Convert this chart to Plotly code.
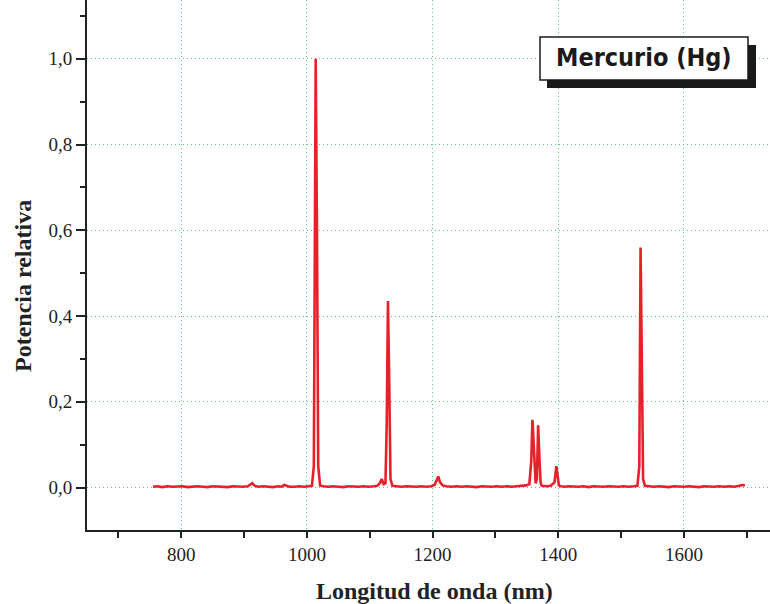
import plotly.graph_objects as go

wavelength = [755, 762, 770, 778, 786, 794, 802, 810, 818, 826, 834, 842, 850, 858, 866, 874, 882, 890, 898, 906, 910, 913, 916, 922,
              930, 938, 946, 954, 960, 964, 967, 972, 980, 988, 996, 1003, 1008, 1011, 1013, 1014, 1016, 1018, 1021, 1026, 1034,
              1042, 1050, 1058, 1066, 1074, 1082, 1090, 1098, 1106, 1112, 1116, 1119, 1122, 1125, 1127, 1129, 1131, 1133, 1136,
              1142, 1150, 1158, 1166, 1174, 1182, 1190, 1198, 1203, 1206, 1209, 1212, 1216, 1222, 1230, 1238, 1246, 1254, 1262,
              1270, 1278, 1286, 1294, 1302, 1310, 1318, 1326, 1334, 1342, 1349, 1354, 1357, 1359, 1361, 1364, 1366, 1368, 1370,
              1372, 1374, 1377, 1382, 1388, 1394, 1397, 1399, 1401, 1404, 1410, 1416, 1424, 1432, 1440, 1448, 1456, 1464, 1472,
              1480, 1488, 1496, 1504, 1512, 1520, 1526, 1529, 1531, 1533, 1535, 1538, 1544, 1552, 1560, 1568, 1576, 1584, 1592,
              1600, 1608, 1616, 1624, 1632, 1640, 1648, 1656, 1664, 1672, 1680, 1688, 1693, 1697]
power = [0.002, 0.003, 0.001, 0.003, 0.002, 0.002, 0.003, 0.001, 0.002, 0.003, 0.002, 0.001, 0.003, 0.002, 0.002, 0.001, 0.003, 0.002, 0.002, 0.003, 0.006, 0.010, 0.005, 0.002,
         0.003, 0.002, 0.001, 0.003, 0.002, 0.006, 0.004, 0.002, 0.002, 0.003, 0.002, 0.003, 0.004, 0.05, 0.55, 1.0, 0.6, 0.05, 0.005, 0.003, 0.002,
         0.003, 0.002, 0.001, 0.003, 0.002, 0.002, 0.003, 0.002, 0.003, 0.004, 0.010, 0.020, 0.008, 0.010, 0.15, 0.435, 0.25, 0.02, 0.004,
         0.003, 0.002, 0.003, 0.002, 0.002, 0.003, 0.002, 0.003, 0.006, 0.015, 0.026, 0.012, 0.005, 0.003, 0.002, 0.003, 0.002, 0.003, 0.002,
         0.001, 0.003, 0.002, 0.002, 0.003, 0.002, 0.003, 0.002, 0.003, 0.004, 0.005, 0.008, 0.06, 0.158, 0.08, 0.01, 0.02, 0.145, 0.07,
         0.01, 0.004, 0.003, 0.003, 0.004, 0.012, 0.050, 0.022, 0.005, 0.003, 0.002, 0.003, 0.002, 0.002, 0.003, 0.001, 0.003, 0.002, 0.002,
         0.003, 0.002, 0.002, 0.003, 0.002, 0.003, 0.004, 0.05, 0.56, 0.30, 0.02, 0.004, 0.003, 0.002, 0.003, 0.002, 0.001, 0.003, 0.002,
         0.002, 0.003, 0.002, 0.001, 0.003, 0.002, 0.002, 0.003, 0.002, 0.003, 0.002, 0.004, 0.006, 0.005]

x_ticks = [800, 1000, 1200, 1400, 1600]
y_ticks = [0.0, 0.2, 0.4, 0.6, 0.8, 1.0]
legend_label = "Mercurio (Hg)"
x_title = "Longitud de onda (nm)"
y_title = "Potencia relativa"

fig = go.Figure(go.Scatter(x=wavelength, y=power, mode="lines",
                           line=dict(color="#e8202a", width=2.6), showlegend=False))

L, B, W, H = 87, 74, 770, 604
pw, ph = W - L, H - B


def px(x):
    return (x - L) / pw


def py(y):
    return (H - B - y) / ph


serif = "Liberation Serif, Times New Roman, serif"
grid = "#55cc77"
fig.update_layout(
    width=W, height=H, margin=dict(l=L, r=0, t=0, b=B),
    paper_bgcolor="white", plot_bgcolor="white",
    separators=", ",
    font=dict(family=serif, color="#222", size=19),
    xaxis=dict(range=[650, 1737], tickvals=x_ticks, ticks="outside", ticklen=6, tickwidth=2,
               tickcolor="#222", showline=True, linecolor="#222", linewidth=2, automargin=False,
               showgrid=True, gridcolor=grid, griddash="1px,3px", gridwidth=1, zeroline=False,
               minor=dict(dtick=100, tick0=0, ticks="outside", ticklen=6, tickwidth=2, tickcolor="#222", showgrid=False),
               tickfont=dict(size=19, family=serif)),
    yaxis=dict(range=[-0.099, 1.137], tickvals=y_ticks, tickformat=".1f", ticks="outside", ticklen=9, tickwidth=2,
               tickcolor="#222", showline=True, linecolor="#222", linewidth=2, automargin=False,
               showgrid=True, gridcolor=grid, griddash="1px,3px", gridwidth=1, zeroline=False,
               minor=dict(dtick=0.1, tick0=0, ticks="outside", ticklen=5, tickwidth=2, tickcolor="#222", showgrid=False),
               tickfont=dict(size=19, family=serif)),
)

fig.add_annotation(xref="paper", yref="paper", x=px(434), y=py(591), text="<b>" + x_title + "</b>",
                   showarrow=False, xanchor="center", yanchor="middle",
                   font=dict(family=serif, size=24, color="#222"))
fig.add_annotation(xref="paper", yref="paper", x=px(23), y=py(286), text="<b>" + y_title + "</b>",
                   showarrow=False, xanchor="center", yanchor="middle", textangle=-90,
                   font=dict(family=serif, size=24, color="#222"))

fig.add_shape(type="rect", xref="paper", yref="paper", x0=px(547), x1=px(756), y0=py(88), y1=py(45),
              fillcolor="#1a1a1a", line=dict(width=0))
fig.add_shape(type="rect", xref="paper", yref="paper", x0=px(540), x1=px(748), y0=py(80), y1=py(37),
              fillcolor="white", line=dict(color="#1a1a1a", width=1.5))
fig.add_annotation(xref="paper", yref="paper", x=px(644), y=py(58), text="<b>" + legend_label + "</b>",
                   showarrow=False, xanchor="center", yanchor="middle",
                   font=dict(family="DejaVu Sans Condensed, Liberation Sans Narrow, Arial Narrow, Liberation Sans", size=25, color="#1a1a1a"))

fig.write_html("out.html", post_script="document.body.style.margin='0';",
               config={"displayModeBar": False})
